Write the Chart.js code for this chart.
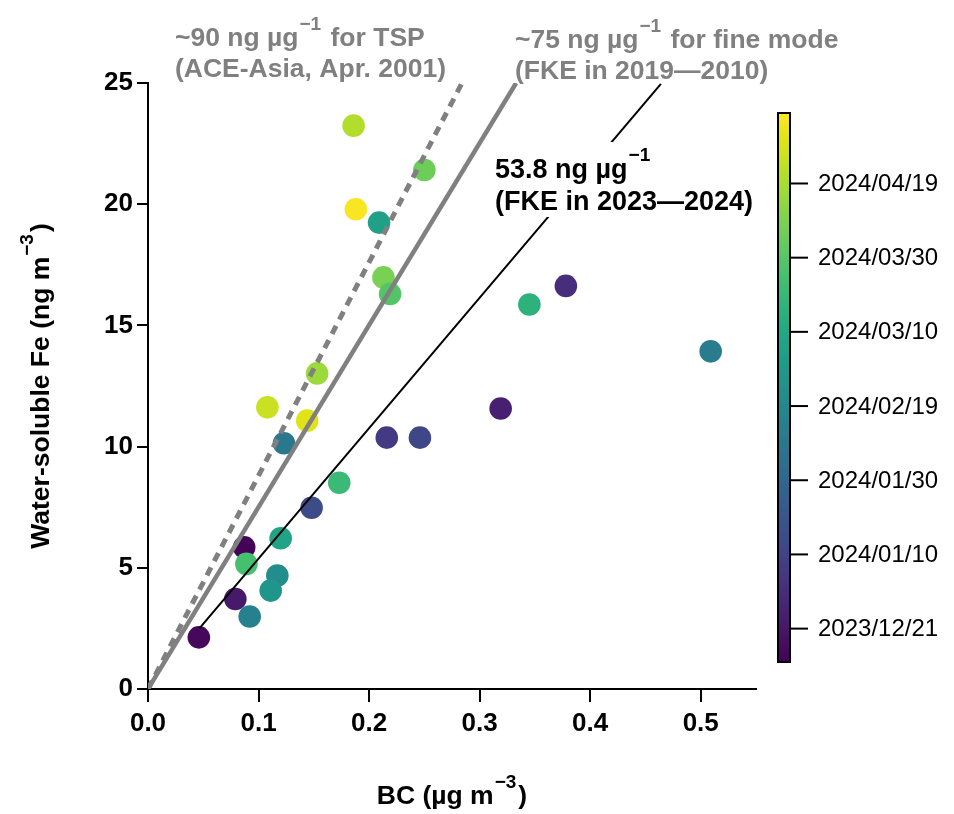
<!DOCTYPE html>
<html>
<head>
<meta charset="utf-8">
<script src="https://cdn.jsdelivr.net/npm/chart.js@4.4.1/dist/chart.umd.min.js"></script>
<style>
  html, body { margin: 0; padding: 0; background: #fff; }
  #wrap { width: 954px; height: 814px; }
</style>
</head>
<body>
<div id="wrap"><canvas id="feChart" width="954" height="814"></canvas></div>
<script>
// BC (ug m-3) vs water-soluble Fe (ng m-3), coloured by sampling date
const bc = [0.186, 0.250, 0.188, 0.209, 0.213, 0.219, 0.153, 0.108, 0.144, 0.123, 0.216, 0.246, 0.173,
            0.148, 0.120, 0.087, 0.089, 0.117, 0.111, 0.079, 0.092, 0.046, 0.378, 0.345, 0.509, 0.319];
const fe = [23.24, 21.41, 19.79, 19.24, 16.98, 16.30, 13.02, 11.62, 11.07, 10.14, 10.37, 10.37, 8.51,
            7.48, 6.22, 5.85, 5.16, 4.68, 4.06, 3.71, 2.99, 2.13, 16.63, 15.86, 13.93, 11.57];
const dates = ['2024-04-21', '2024-04-05', '2024-05-07', '2024-03-05', '2024-04-08', '2024-03-29',
               '2024-04-16', '2024-04-26', '2024-05-01', '2024-02-09', '2024-01-06', '2024-01-12',
               '2024-03-21', '2024-01-15', '2024-03-07', '2023-12-13', '2024-03-25', '2024-02-21',
               '2024-02-27', '2023-12-22', '2024-02-15', '2023-12-15', '2023-12-31', '2024-03-16',
               '2024-02-11', '2023-12-25'];

// reference lines (slopes ~88, 75 and 53.8 ng per ug)
const tspX = [0, 0.284], tspY = [0, 25];
const fineX = [0, 0.333], fineY = [0, 25];
const fkeX = [0.0465, 0.464], fkeY = [2.50, 24.96];

const xTicks = [0, 0.1, 0.2, 0.3, 0.4, 0.5];
const yTicks = [0, 5, 10, 15, 20, 25];
const cbTicks = ['2023/12/21', '2024/01/10', '2024/01/30', '2024/02/19', '2024/03/10', '2024/03/30', '2024/04/19'];
const cbStart = '2023/12/12', cbEnd = '2024/05/08';

const FONT = '"Liberation Sans", Arial, sans-serif';
const GRAY = '#808080';

const viridis = ['#440154', '#471365', '#482475', '#463480', '#414487', '#3b528b', '#355f8d',
                 '#2f6c8e', '#2a788e', '#25848e', '#21918c', '#1e9c89', '#22a884', '#2fb47c',
                 '#44bf70', '#5ec962', '#7ad151', '#9bd93c', '#bddf26', '#dfe318', '#fde725'];

function hexRgb(h) {
  return [1, 3, 5].map(i => parseInt(h.substr(i, 2), 16));
}
function viridisAt(t) {
  t = Math.max(0, Math.min(1, t));
  const p = t * (viridis.length - 1);
  const i = Math.min(Math.floor(p), viridis.length - 2);
  const f = p - i;
  const a = hexRgb(viridis[i]), b = hexRgb(viridis[i + 1]);
  const c = a.map((v, k) => Math.round(v + (b[k] - v) * f));
  return 'rgb(' + c.join(',') + ')';
}
function dayNum(s) {
  const [y, m, d] = s.split(/[-\/]/).map(Number);
  return Date.UTC(y, m - 1, d) / 86400000;
}
function dateFrac(s) {
  return (dayNum(s) - dayNum(cbStart)) / (dayNum(cbEnd) - dayNum(cbStart));
}

// text with superscripts: parts are strings or {sup: '...'}
function richWidth(ctx, parts, size) {
  let w = 0;
  parts.forEach(p => {
    if (typeof p === 'string') {
      ctx.font = 'bold ' + size + 'px ' + FONT;
      w += ctx.measureText(p).width;
    } else {
      ctx.font = 'bold ' + Math.round(size * 0.7) + 'px ' + FONT;
      w += ctx.measureText(p.sup).width + 3;
    }
  });
  return w;
}
function drawRich(ctx, parts, x, y, size, color) {
  let cx = x;
  ctx.fillStyle = color;
  ctx.textAlign = 'left';
  ctx.textBaseline = 'alphabetic';
  parts.forEach(p => {
    if (typeof p === 'string') {
      ctx.font = 'bold ' + size + 'px ' + FONT;
      ctx.fillText(p, cx, y);
      cx += ctx.measureText(p).width;
    } else {
      ctx.font = 'bold ' + Math.round(size * 0.7) + 'px ' + FONT;
      ctx.fillText(p.sup, cx + 1, y - size * 0.62);
      cx += ctx.measureText(p.sup).width + 3;
    }
  });
}

const overlayPlugin = {
  id: 'overlay',
  afterDatasetsDraw(chart) {
    const ctx = chart.ctx;
    ctx.save();
    // gray notes
    drawRich(ctx, ['~90 ng \u00b5g', {sup: '\u22121'}, ' for TSP'], 175, 46, 26.5, GRAY);
    drawRich(ctx, ['(ACE-Asia, Apr. 2001)'], 175, 77, 26.5, GRAY);
    drawRich(ctx, ['~75 ng \u00b5g', {sup: '\u22121'}, ' for fine mode'], 515, 48, 26.5, GRAY);
    drawRich(ctx, ['(FKE in 2019\u20142010)'], 515, 79, 26.5, GRAY);
    // black note sits on a white box that breaks the fitted line
    ctx.fillStyle = '#fff';
    ctx.fillRect(490, 142, 270, 75);
    drawRich(ctx, ['53.8 ng \u00b5g', {sup: '\u22121'}], 495, 178, 27, '#000');
    drawRich(ctx, ['(FKE in 2023\u20142024)'], 495, 210, 27, '#000');
    ctx.restore();
  },
  afterDraw(chart) {
    const ctx = chart.ctx;
    const area = chart.chartArea;
    ctx.save();
    // axis titles
    const xt = ['BC (\u00b5g m', {sup: '\u22123'}, ')'];
    const xw = richWidth(ctx, xt, 26.5);
    drawRich(ctx, xt, (area.left + area.right) / 2 - xw / 2, 804, 26.5, '#000');
    const yt = ['Water-soluble Fe (ng m', {sup: '\u22123'}, ')'];
    const yw = richWidth(ctx, yt, 26.5);
    ctx.translate(49, (area.top + area.bottom) / 2);
    ctx.rotate(-Math.PI / 2);
    drawRich(ctx, yt, -yw / 2, 0, 26.5, '#000');
    ctx.restore();

    // colour bar
    ctx.save();
    const x0 = area.right + 22, w = 12, top = 113, bottom = 662;
    const grad = ctx.createLinearGradient(0, bottom, 0, top);
    viridis.forEach((c, i) => grad.addColorStop(i / (viridis.length - 1), c));
    ctx.fillStyle = grad;
    ctx.fillRect(x0, top, w, bottom - top);
    ctx.strokeStyle = '#000';
    ctx.lineWidth = 2;
    ctx.strokeRect(x0, top, w, bottom - top);
    ctx.font = '24px ' + FONT;
    ctx.fillStyle = '#000';
    ctx.textAlign = 'left';
    ctx.textBaseline = 'middle';
    cbTicks.forEach(d => {
      const y = bottom - dateFrac(d) * (bottom - top);
      ctx.beginPath();
      ctx.moveTo(x0 + w, y);
      ctx.lineTo(x0 + w + 18, y);
      ctx.stroke();
      ctx.fillText(d, x0 + w + 28, y + 1);
    });
    ctx.restore();
  }
};

function pts(xs, ys) {
  return xs.map((x, i) => ({x: x, y: ys[i]}));
}

const tickFont = {family: FONT, size: 26, weight: 'bold'};

new Chart(document.getElementById('feChart'), {
  type: 'scatter',
  data: {
    datasets: [
      {
        data: pts(fkeX, fkeY), showLine: true, pointRadius: 0,
        borderColor: '#000', borderWidth: 2, order: 0
      },
      {
        data: pts(fineX, fineY), showLine: true, pointRadius: 0,
        borderColor: GRAY, borderWidth: 4.5, order: 1
      },
      {
        data: pts(tspX, tspY), showLine: true, pointRadius: 0,
        borderColor: GRAY, borderWidth: 5, borderDash: [9, 7], order: 2
      },
      {
        data: pts(bc, fe),
        pointRadius: 11.3,
        pointBorderWidth: 0,
        pointBackgroundColor: dates.map(d => viridisAt(dateFrac(d))),
        order: 3
      }
    ]
  },
  options: {
    responsive: false,
    animation: false,
    layout: { padding: { top: 83, right: 198, left: 0, bottom: 0 } },
    plugins: { legend: { display: false }, tooltip: { enabled: false } },
    scales: {
      x: {
        type: 'linear', min: 0, max: 0.55,
        afterBuildTicks: s => { s.ticks = xTicks.map(v => ({value: v})); },
        afterFit: s => { s.height = 125; },
        ticks: { font: tickFont, color: '#000', padding: 6, maxRotation: 0,
                 callback: v => v.toFixed(1) },
        grid: { drawOnChartArea: false, tickLength: 13, color: '#000', lineWidth: 2 },
        border: { display: true, color: '#000', width: 2 }
      },
      y: {
        type: 'linear', min: 0, max: 25,
        afterBuildTicks: s => { s.ticks = yTicks.map(v => ({value: v})); },
        afterFit: s => { s.width = 148; },
        ticks: { font: tickFont, color: '#000', padding: 4 },
        grid: { drawOnChartArea: false, tickLength: 11, color: '#000', lineWidth: 2 },
        border: { display: true, color: '#000', width: 2 }
      }
    }
  },
  plugins: [overlayPlugin]
});
</script>
</body>
</html>
